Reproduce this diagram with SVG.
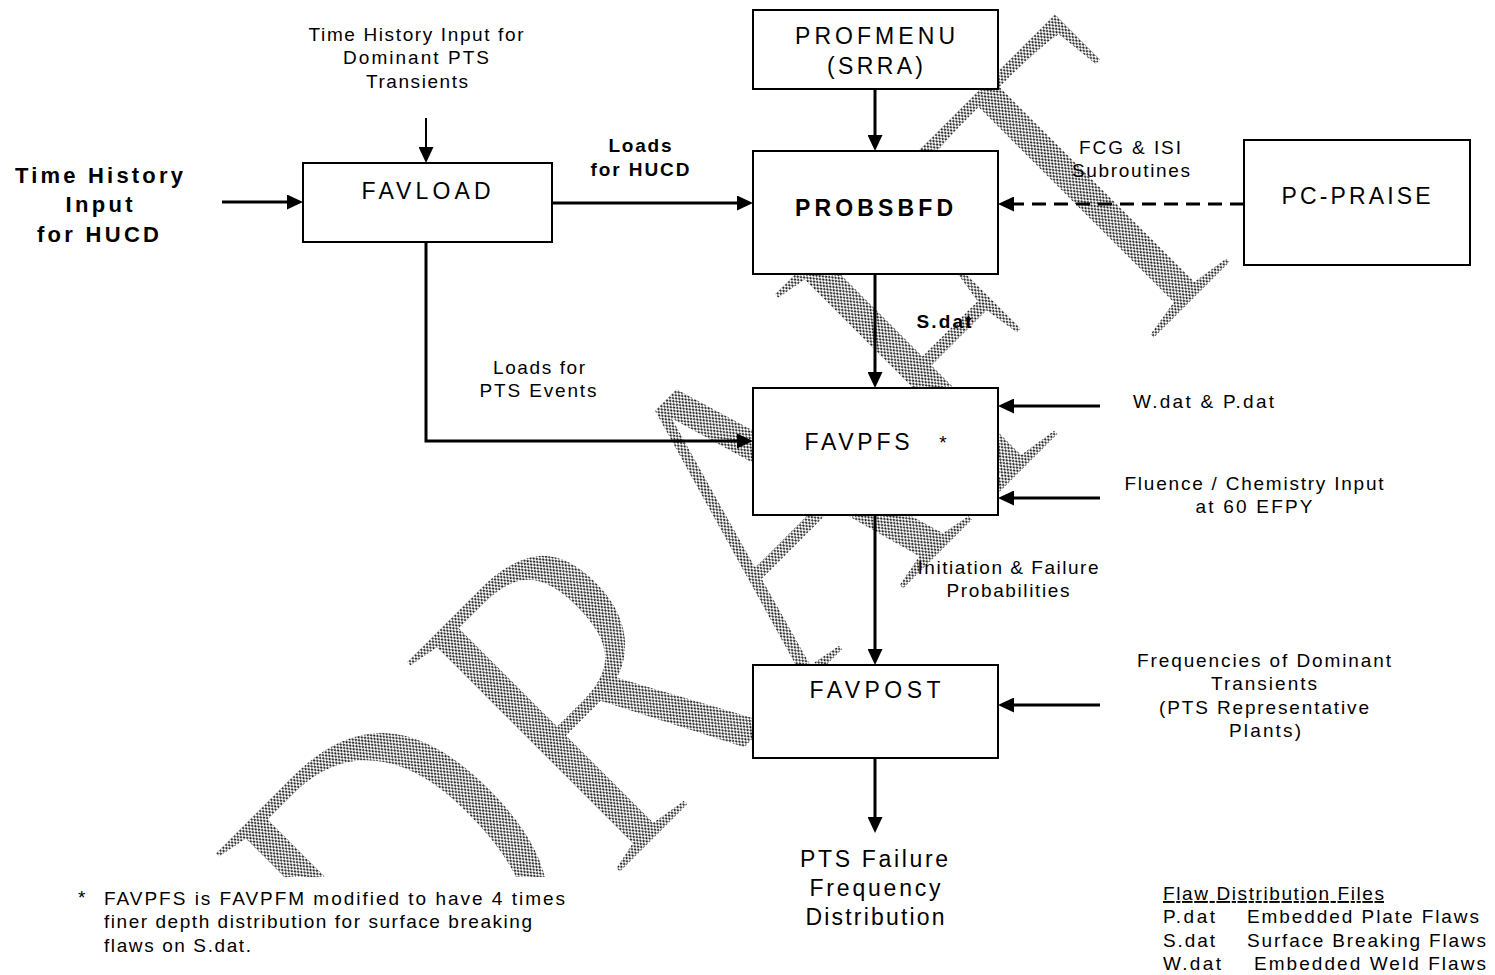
<svg xmlns="http://www.w3.org/2000/svg" width="1495" height="975" viewBox="0 0 1495 975">
<style>
.t{font-family:"Liberation Sans",Arial,sans-serif;font-size:19px;fill:#000;text-anchor:middle}
.l{text-anchor:start}
.b{font-weight:bold}
.h{font-size:23px}
.box{fill:#fff;stroke:#000;stroke-width:2}
.c{fill:none;stroke:#000;stroke-width:3}
.wm{font-family:"Liberation Serif","Times New Roman",serif;font-size:468px;fill:url(#stip);stroke:#fff;stroke-width:8;font-kerning:none}
</style>
<defs>
<pattern id="stip" width="5" height="5" patternUnits="userSpaceOnUse">
<circle cx="1.25" cy="1.25" r="1.2" fill="#111"/>
<circle cx="3.75" cy="3.75" r="1.2" fill="#111"/>
</pattern>
<clipPath id="wmclip"><path d="M0,0 H1495 V975 H600 V877 H0 Z"/></clipPath>
<marker id="ah" viewBox="0 0 16 15" markerWidth="16" markerHeight="15" refX="4" refY="7.5" markerUnits="userSpaceOnUse" orient="auto">
<path d="M0,0 L16,7.5 L0,15 Z" fill="#000" stroke="none"/>
</marker>
</defs>
<rect width="1495" height="975" fill="#fff"/>

<g id="watermark" clip-path="url(#wmclip)">
<text class="wm" transform="translate(420,1077) rotate(-45) scale(0.8,1)">DRAF<tspan dx="-22">T</tspan></text>
</g>

<g id="connectors">
<line class="c" style="stroke-width:2" x1="426" y1="118" x2="426" y2="151" marker-end="url(#ah)"/>
<line class="c" x1="222" y1="202" x2="291" y2="202" marker-end="url(#ah)"/>
<line class="c" x1="552" y1="203" x2="741" y2="203" marker-end="url(#ah)"/>
<path class="c" d="M426,242 V441 H741" marker-end="url(#ah)"/>
<line class="c" x1="875" y1="89" x2="875" y2="139" marker-end="url(#ah)"/>
<line class="c" x1="1244" y1="204" x2="1010" y2="204" stroke-dasharray="14 8" marker-end="url(#ah)"/>
<line class="c" x1="875" y1="274" x2="875" y2="376" marker-end="url(#ah)"/>
<line class="c" x1="1100" y1="406" x2="1010" y2="406" marker-end="url(#ah)"/>
<line class="c" x1="1100" y1="498" x2="1010" y2="498" marker-end="url(#ah)"/>
<line class="c" x1="875" y1="515" x2="875" y2="653" marker-end="url(#ah)"/>
<line class="c" x1="1100" y1="705" x2="1010" y2="705" marker-end="url(#ah)"/>
<line class="c" x1="875" y1="758" x2="875" y2="821" marker-end="url(#ah)"/>
</g>

<g id="edge-labels">
<text class="t b" x="640" y="152" textLength="63" lengthAdjust="spacing">Loads</text>
<text class="t b" x="640" y="176" textLength="99" lengthAdjust="spacing">for HUCD</text>
<text class="t" x="539" y="374" textLength="92" lengthAdjust="spacing">Loads for</text>
<text class="t" x="538" y="397" textLength="117" lengthAdjust="spacing">PTS Events</text>
<text class="t" x="1130" y="154" textLength="102" lengthAdjust="spacing">FCG &amp; ISI</text>
<text class="t" x="1131" y="177" textLength="118" lengthAdjust="spacing">Subroutines</text>
<text class="t b" x="944" y="328" textLength="55" lengthAdjust="spacing">S.dat</text>
<text class="t" x="1008" y="574" textLength="181" lengthAdjust="spacing">Initiation &amp; Failure</text>
<text class="t" x="1008" y="597" textLength="123" lengthAdjust="spacing">Probabilities</text>
</g>

<g id="input-time-history-pts">
<text class="t" x="416" y="41" textLength="215" lengthAdjust="spacing">Time History Input for</text>
<text class="t" x="416" y="64" textLength="146" lengthAdjust="spacing">Dominant PTS</text>
<text class="t" x="417" y="88" textLength="102" lengthAdjust="spacing">Transients</text>
</g>

<g id="input-time-history-hucd">
<text class="t b" style="font-size:22px" x="99" y="183" textLength="168" lengthAdjust="spacing">Time History</text>
<text class="t b" style="font-size:22px" x="99" y="212" textLength="67" lengthAdjust="spacing">Input</text>
<text class="t b" style="font-size:22px" x="98" y="242" textLength="122" lengthAdjust="spacing">for HUCD</text>
</g>

<g id="favload">
<rect class="box" x="303" y="163" width="249" height="79"/>
<text class="t h" x="426" y="199" textLength="129" lengthAdjust="spacing">FAVLOAD</text>
</g>

<g id="profmenu">
<rect class="box" x="753" y="10" width="245" height="79"/>
<text class="t h" x="875" y="44" textLength="160" lengthAdjust="spacing">PROFMENU</text>
<text class="t h" x="875" y="74" textLength="96" lengthAdjust="spacing">(SRRA)</text>
</g>

<g id="probsbfd">
<rect class="box" x="753" y="151" width="245" height="123"/>
<text class="t h b" x="874" y="216" textLength="158" lengthAdjust="spacing">PROBSBFD</text>
</g>

<g id="pc-praise">
<rect class="box" x="1244" y="140" width="226" height="125"/>
<text class="t h" x="1356" y="204" textLength="149" lengthAdjust="spacing">PC-PRAISE</text>
</g>

<g id="favpfs">
<rect class="box" x="753" y="388" width="245" height="127"/>
<text class="t h" x="857" y="450" textLength="105" lengthAdjust="spacing">FAVPFS</text>
<text class="t" x="943" y="449">*</text>
</g>

<g id="input-wp">
<text class="t l" x="1133" y="408" textLength="141" lengthAdjust="spacing">W.dat &amp; P.dat</text>
</g>

<g id="input-fluence">
<text class="t" x="1254" y="490" textLength="259" lengthAdjust="spacing">Fluence / Chemistry Input</text>
<text class="t" x="1254" y="513" textLength="117" lengthAdjust="spacing">at 60 EFPY</text>
</g>

<g id="favpost">
<rect class="box" x="753" y="665" width="245" height="93"/>
<text class="t h" x="875" y="698" textLength="131" lengthAdjust="spacing">FAVPOST</text>
</g>

<g id="input-frequencies">
<text class="t" x="1264" y="667" textLength="254" lengthAdjust="spacing">Frequencies of Dominant</text>
<text class="t" x="1264" y="690" textLength="106" lengthAdjust="spacing">Transients</text>
<text class="t" x="1264" y="714" textLength="210" lengthAdjust="spacing">(PTS Representative</text>
<text class="t" x="1265" y="737" textLength="72" lengthAdjust="spacing">Plants)</text>
</g>

<g id="output">
<text class="t h" x="874" y="867" textLength="148" lengthAdjust="spacing">PTS Failure</text>
<text class="t h" x="875" y="896" textLength="131" lengthAdjust="spacing">Frequency</text>
<text class="t h" x="875" y="925" textLength="139" lengthAdjust="spacing">Distribution</text>
</g>

<g id="footnote">
<text class="t l" x="78" y="904">*</text>
<text class="t l" x="104" y="905" textLength="461" lengthAdjust="spacing">FAVPFS is FAVPFM modified to have 4 times</text>
<text class="t l" x="104" y="928" textLength="428" lengthAdjust="spacing">finer depth distribution for surface breaking</text>
<text class="t l" x="104" y="952" textLength="147" lengthAdjust="spacing">flaws on S.dat.</text>
</g>

<g id="legend">
<text class="t l" x="1163" y="900" textLength="221" lengthAdjust="spacing" text-decoration="underline">Flaw Distribution Files</text>
<text class="t l" x="1163" y="923" textLength="52" lengthAdjust="spacing">P.dat</text>
<text class="t l" x="1247" y="923" textLength="232" lengthAdjust="spacing">Embedded Plate Flaws</text>
<text class="t l" x="1163" y="947" textLength="52" lengthAdjust="spacing">S.dat</text>
<text class="t l" x="1247" y="947" textLength="239" lengthAdjust="spacing">Surface Breaking Flaws</text>
<text class="t l" x="1163" y="970" textLength="58" lengthAdjust="spacing">W.dat</text>
<text class="t l" x="1254" y="970" textLength="232" lengthAdjust="spacing">Embedded Weld Flaws</text>
</g>
</svg>
